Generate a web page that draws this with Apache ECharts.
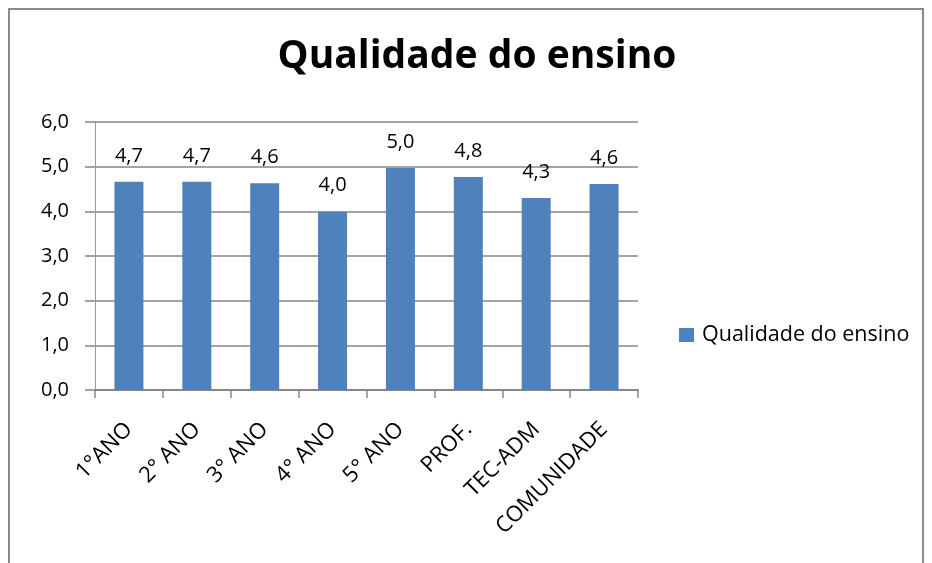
<!DOCTYPE html>
<html>
<head>
<meta charset="utf-8">
<script src="https://cdn.jsdelivr.net/npm/echarts@6/dist/echarts.min.js"></script>
<style>
  html, body { margin: 0; padding: 0; background: #fff; }
  #frame { position: absolute; left: 8px; top: 8px; width: 912px; height: 560px; border: 2px solid #8a8a8a; border-bottom: none; }
  #main { position: absolute; left: 0; top: 0; width: 932px; height: 563px; }
</style>
</head>
<body>
<div id="frame"></div>
<div id="main"></div>
<script>
// dados
var categorias = ['1°ANO', '2° ANO', '3° ANO', '4° ANO', '5° ANO', 'PROF.', 'TEC-ADM', 'COMUNIDADE']
var valores = [4.66, 4.66, 4.63, 3.99, 4.97, 4.77, 4.30, 4.61]
var serieNome = 'Qualidade do ensino'

var fonte = 'Open Sans'
var virgula = function (v) { return v.toFixed(1).replace('.', ',') }

var chart = echarts.init(document.getElementById('main'))
chart.setOption({
  animation: false,
  title: {
    text: 'Qualidade do ensino',
    left: 472, top: 32, textAlign: 'center',
    textStyle: { fontFamily: fonte, fontWeight: 'bold', fontSize: 39, color: '#000' }
  },
  legend: {
    left: 679, top: 324, padding: 0,
    itemWidth: 15, itemHeight: 14, itemGap: 8,
    icon: 'rect',
    textStyle: { fontFamily: fonte, fontSize: 21.5, color: '#000', padding: [0, 0, 0, 3] },
    data: [serieNome]
  },
  grid: { left: 95, top: 122, width: 543, height: 268, containLabel: false },
  xAxis: {
    type: 'category',
    data: categorias,
    axisLine: { lineStyle: { color: '#868686', width: 2 } },
    axisTick: { show: true, length: 8, lineStyle: { color: '#868686', width: 1.5 } },
    axisLabel: { rotate: 45, fontFamily: fonte, fontSize: 22, color: '#000', margin: 36, interval: 0 }
  },
  yAxis: {
    type: 'value',
    min: 0, max: 6, interval: 1,
    axisLine: { show: true, lineStyle: { color: '#9a9a9a', width: 1 } },
    axisTick: { show: true, inside: false, length: 10, lineStyle: { color: '#868686', width: 1.5 } },
    axisLabel: { fontFamily: fonte, fontSize: 20, color: '#000', margin: 26, formatter: virgula },
    splitLine: { lineStyle: { color: '#868686', width: 1.5 } }
  },
  series: [{
    name: serieNome,
    type: 'bar',
    data: valores,
    barWidth: 29,
    itemStyle: { color: '#4F81BD' },
    label: {
      show: true, position: 'top', distance: 16,
      fontFamily: fonte, fontSize: 20, color: '#000',
      formatter: function (p) { return virgula(p.value) }
    }
  }]
})
</script>
</body>
</html>
